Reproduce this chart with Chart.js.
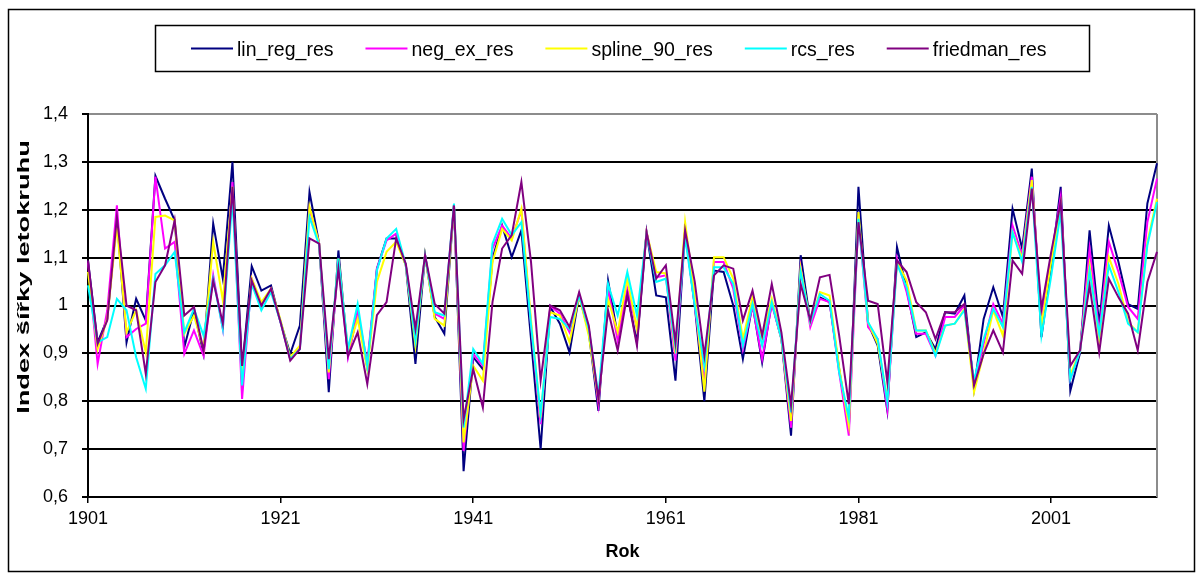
<!DOCTYPE html>
<html>
<head>
<meta charset="utf-8">
<script src="https://cdn.jsdelivr.net/npm/chart.js@4"></script>
<style>
  html, body { margin: 0; padding: 0; background: #fff; }
  #wrap { width: 1201px; height: 576px; }
</style>
</head>
<body>
<div id="wrap"><canvas id="myChart" width="1201" height="576"></canvas></div>
<script>
const years = [
  '1901','1902','1903','1904','1905','1906','1907','1908','1909','1910',
  '1911','1912','1913','1914','1915','1916','1917','1918','1919','1920',
  '1921','1922','1923','1924','1925','1926','1927','1928','1929','1930',
  '1931','1932','1933','1934','1935','1936','1937','1938','1939','1940',
  '1941','1942','1943','1944','1945','1946','1947','1948','1949','1950',
  '1951','1952','1953','1954','1955','1956','1957','1958','1959','1960',
  '1961','1962','1963','1964','1965','1966','1967','1968','1969','1970',
  '1971','1972','1973','1974','1975','1976','1977','1978','1979','1980',
  '1981','1982','1983','1984','1985','1986','1987','1988','1989','1990',
  '1991','1992','1993','1994','1995','1996','1997','1998','1999','2000',
  '2001','2002','2003','2004','2005','2006','2007','2008','2009','2010',
  '2011','2012'
];
const xTickYears = ['1901', '1921', '1941', '1961', '1981', '2001'];
const yTickLabels = ['0,6', '0,7', '0,8', '0,9', '1', '1,1', '1,2', '1,3', '1,4'];

const linRegRes = [
  1.094, 0.923, 0.972, 1.185, 0.923, 1.014, 0.969, 1.271, 1.223, 1.178,
  0.913, 0.990, 0.899, 1.171, 1.056, 1.300, 0.867, 1.082, 1.031, 1.042,
  0.965, 0.899, 0.958, 1.237, 1.129, 0.819, 1.115, 0.895, 0.986, 0.870,
  1.077, 1.140, 1.140, 1.084, 0.878, 1.105, 0.976, 0.941, 1.209, 0.654,
  0.892, 0.867, 1.098, 1.167, 1.101, 1.157, 0.930, 0.700, 0.997, 0.962,
  0.902, 1.021, 0.944, 0.780, 1.052, 0.937, 1.024, 0.923, 1.153, 1.021,
  1.017, 0.843, 1.157, 1.000, 0.800, 1.073, 1.070, 1.000, 0.888, 1.003,
  0.881, 1.007, 0.930, 0.728, 1.105, 0.965, 1.017, 1.007, 0.867, 0.740,
  1.248, 0.962, 0.916, 0.780, 1.122, 1.035, 0.934, 0.944, 0.909, 0.986,
  0.983, 1.021, 0.826, 0.972, 1.038, 0.976, 1.202, 1.119, 1.286, 0.934,
  1.080, 1.248, 0.822, 0.900, 1.157, 0.960, 1.167, 1.091, 1.003, 0.993,
  1.213, 1.297
];
const negExRes = [
  1.090, 0.878, 0.990, 1.209, 0.934, 0.951, 0.962, 1.269, 1.119, 1.133,
  0.899, 0.948, 0.895, 1.063, 0.951, 1.258, 0.805, 1.056, 1.000, 1.035,
  0.965, 0.888, 0.913, 1.202, 1.129, 0.846, 1.091, 0.892, 0.986, 0.881,
  1.077, 1.136, 1.150, 1.084, 0.930, 1.105, 0.983, 0.972, 1.209, 0.696,
  0.899, 0.874, 1.119, 1.167, 1.140, 1.199, 0.960, 0.752, 0.999, 0.983,
  0.944, 1.021, 0.951, 0.794, 1.035, 0.927, 1.035, 0.951, 1.153, 1.059,
  1.063, 0.885, 1.157, 1.000, 0.840, 1.091, 1.091, 1.035, 0.909, 1.000,
  0.888, 1.003, 0.930, 0.745, 1.080, 0.955, 1.014, 1.007, 0.860, 0.728,
  1.184, 0.955, 0.930, 0.784, 1.098, 1.028, 0.941, 0.941, 0.895, 0.976,
  0.976, 1.000, 0.833, 0.920, 1.003, 0.962, 1.167, 1.105, 1.269, 0.972,
  1.100, 1.227, 0.846, 0.905, 1.119, 0.944, 1.133, 1.070, 0.997, 0.972,
  1.174, 1.265
];
const spline90Res = [
  1.070, 0.909, 0.972, 1.167, 0.944, 0.990, 0.902, 1.185, 1.188, 1.178,
  0.941, 0.979, 0.909, 1.133, 1.010, 1.248, 0.846, 1.056, 1.007, 1.035,
  0.969, 0.892, 0.916, 1.206, 1.129, 0.860, 1.098, 0.906, 0.972, 0.867,
  1.049, 1.112, 1.133, 1.084, 0.916, 1.105, 0.972, 0.958, 1.209, 0.714,
  0.874, 0.843, 1.091, 1.160, 1.136, 1.202, 0.970, 0.766, 0.986, 0.979,
  0.923, 1.021, 0.937, 0.805, 1.014, 0.944, 1.056, 0.951, 1.153, 1.070,
  1.067, 0.900, 1.174, 1.020, 0.820, 1.101, 1.101, 1.056, 0.930, 1.017,
  0.934, 1.014, 0.930, 0.759, 1.077, 0.965, 1.028, 1.021, 0.870, 0.749,
  1.195, 0.965, 0.920, 0.805, 1.091, 1.052, 0.948, 0.948, 0.900, 0.958,
  0.962, 0.993, 0.819, 0.900, 0.990, 0.937, 1.153, 1.098, 1.262, 0.958,
  1.090, 1.210, 0.855, 0.905, 1.084, 0.930, 1.101, 1.045, 0.965, 0.944,
  1.133, 1.223
];
const rcsRes = [
  1.042, 0.923, 0.934, 1.014, 0.990, 0.892, 0.826, 1.066, 1.084, 1.112,
  0.944, 0.993, 0.937, 1.056, 0.951, 1.223, 0.833, 1.045, 0.990, 1.028,
  0.965, 0.888, 0.909, 1.185, 1.126, 0.867, 1.098, 0.909, 1.003, 0.874,
  1.073, 1.140, 1.160, 1.084, 0.927, 1.105, 0.986, 0.979, 1.213, 0.745,
  0.909, 0.878, 1.129, 1.181, 1.147, 1.174, 0.960, 0.773, 0.976, 0.972,
  0.951, 1.021, 0.951, 0.812, 1.045, 0.979, 1.070, 0.979, 1.150, 1.049,
  1.056, 0.913, 1.143, 1.000, 0.874, 1.080, 1.080, 1.045, 0.916, 1.003,
  0.916, 1.007, 0.930, 0.777, 1.070, 0.965, 1.024, 1.010, 0.860, 0.766,
  1.181, 0.965, 0.930, 0.798, 1.087, 1.038, 0.948, 0.948, 0.895, 0.958,
  0.962, 0.990, 0.843, 0.930, 0.993, 0.955, 1.153, 1.091, 1.248, 0.937,
  1.060, 1.195, 0.846, 0.905, 1.073, 0.940, 1.084, 1.028, 0.962, 0.944,
  1.126, 1.216
];
const friedmanRes = [
  1.094, 0.920, 0.969, 1.185, 1.000, 0.990, 0.857, 1.049, 1.084, 1.178,
  0.979, 0.997, 0.906, 1.052, 0.962, 1.248, 0.874, 1.052, 1.000, 1.035,
  0.965, 0.885, 0.909, 1.140, 1.129, 0.888, 1.077, 0.895, 0.944, 0.836,
  0.980, 1.007, 1.140, 1.087, 0.951, 1.105, 1.003, 0.983, 1.209, 0.762,
  0.867, 0.787, 1.007, 1.119, 1.147, 1.258, 1.091, 0.843, 1.000, 0.990,
  0.955, 1.028, 0.958, 0.805, 0.990, 0.906, 1.024, 0.916, 1.153, 1.056,
  1.084, 0.923, 1.157, 1.050, 0.895, 1.063, 1.084, 1.077, 0.969, 1.031,
  0.937, 1.045, 0.944, 0.791, 1.045, 0.969, 1.059, 1.064, 0.937, 0.794,
  1.174, 1.010, 1.003, 0.840, 1.094, 1.070, 1.007, 0.986, 0.930, 0.986,
  0.986, 1.003, 0.833, 0.899, 0.948, 0.902, 1.094, 1.066, 1.244, 0.993,
  1.110, 1.216, 0.874, 0.906, 1.042, 0.902, 1.056, 1.017, 0.983, 0.906,
  1.049, 1.112
];

const yTitle = 'Index šířky letokruhu';
const xTitle = 'Rok';
const fontFamily = '"Liberation Sans", Arial, sans-serif';

// frame, plot border, stretched y title and boxed legend
const decorPlugin = {
  id: 'decor',
  beforeDatasetsDraw(chart) {
    const { ctx, chartArea: a } = chart;
    ctx.save();
    ctx.strokeStyle = '#8c8c8c';
    ctx.lineWidth = 2;
    ctx.beginPath();
    ctx.moveTo(a.right, a.top);
    ctx.lineTo(a.right, a.bottom);
    ctx.stroke();
    ctx.restore();
  },
  afterDraw(chart) {
    const ctx = chart.ctx;
    ctx.save();
    ctx.strokeStyle = '#000';
    ctx.lineWidth = 1.5;
    ctx.strokeRect(8.5, 9.5, 1186, 562);

    // y axis title
    ctx.save();
    ctx.translate(25, 277);
    ctx.rotate(-Math.PI / 2);
    ctx.scale(1.7, 1);
    ctx.font = 'bold 16px ' + fontFamily;
    ctx.fillStyle = '#000';
    ctx.textAlign = 'center';
    ctx.textBaseline = 'middle';
    ctx.fillText(yTitle, 0, 0);
    ctx.restore();

    // legend
    ctx.lineWidth = 1.5;
    ctx.strokeRect(155.5, 25.5, 934, 46);
    ctx.font = '19.5px ' + fontFamily;
    ctx.textBaseline = 'alphabetic';
    let x = 191;
    const lineY = 48.5;
    const textY = 56;
    chart.data.datasets.forEach(ds => {
      ctx.strokeStyle = ds.borderColor;
      ctx.lineWidth = 2;
      ctx.beginPath();
      ctx.moveTo(x, lineY);
      ctx.lineTo(x + 42, lineY);
      ctx.stroke();
      ctx.fillStyle = '#000';
      ctx.fillText(ds.label, x + 46, textY);
      x += 46 + ctx.measureText(ds.label).width + 32;
    });
    ctx.restore();
  }
};

const ctx = document.getElementById('myChart').getContext('2d');
const chart = new Chart(ctx, {
  type: 'line',
  data: {
    labels: years,
    datasets: [
      { label: 'lin_reg_res', data: linRegRes, borderColor: '#000080', order: 4 },
      { label: 'neg_ex_res', data: negExRes, borderColor: '#ff00ff', order: 3 },
      { label: 'spline_90_res', data: spline90Res, borderColor: '#ffff00', order: 2 },
      { label: 'rcs_res', data: rcsRes, borderColor: '#00ffff', order: 1 },
      { label: 'friedman_res', data: friedmanRes, borderColor: '#800080', order: 0 }
    ]
  },
  options: {
    responsive: false,
    animation: false,
    devicePixelRatio: 1,
    layout: { padding: { top: 114, right: 44, left: 0, bottom: 0 } },
    elements: {
      line: { borderWidth: 2, tension: 0, fill: false },
      point: { radius: 0, hoverRadius: 0 }
    },
    plugins: {
      legend: { display: false },
      tooltip: { enabled: false },
      title: { display: false }
    },
    scales: {
      x: {
        type: 'category',
        offset: false,
        afterFit: s => { s.height = 79; },
        border: { color: '#000', width: 2 },
        grid: {
          drawOnChartArea: false,
          drawTicks: true,
          tickLength: 6,
          lineWidth: 1.5,
          color: c => (c.index % 20 === 0 ? '#000' : 'rgba(0,0,0,0)')
        },
        ticks: {
          autoSkip: false,
          maxRotation: 0,
          minRotation: 0,
          padding: 5,
          color: '#000',
          font: { family: fontFamily, size: 18 },
          callback: (v, i) => (xTickYears.includes(years[i]) ? years[i] : '')
        },
        title: {
          display: true,
          text: xTitle,
          color: '#000',
          padding: { top: 0, bottom: 13 },
          font: { family: fontFamily, size: 18, weight: 'bold' }
        }
      },
      y: {
        min: 0.6,
        max: 1.4,
        afterFit: s => { s.width = 88; },
        border: { color: '#000', width: 2 },
        grid: {
          lineWidth: 2,
          tickLength: 6,
          tickColor: '#000',
          color: c => (c.index === yTickLabels.length - 1 ? '#8c8c8c' : '#000')
        },
        ticks: {
          stepSize: 0.1,
          padding: 14,
          color: '#000',
          font: { family: fontFamily, size: 18 },
          callback: (v, i) => yTickLabels[i]
        }
      }
    }
  },
  plugins: [decorPlugin]
});
</script>
</body>
</html>
